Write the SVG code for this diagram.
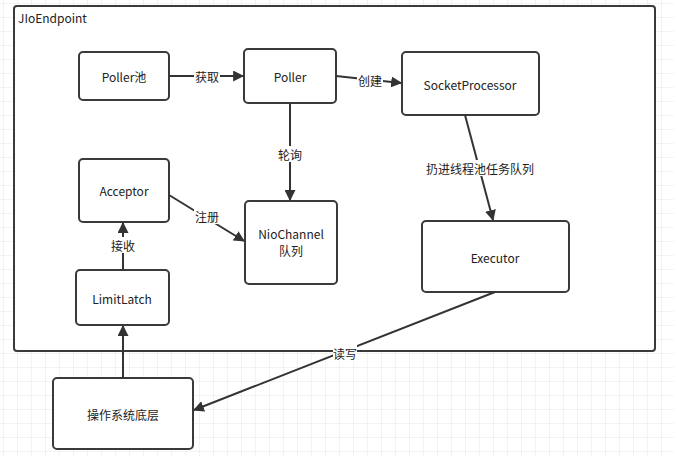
<svg xmlns="http://www.w3.org/2000/svg" width="674" height="457" viewBox="0 0 674 457">
<style>
.n{fill:#fff;stroke:#3a3a3a;stroke-width:2}
.t{font-family:"Noto Sans CJK SC","Noto Sans",sans-serif;font-size:12px;fill:#222;text-anchor:middle;dominant-baseline:central}
.c{stroke:#333;stroke-width:2;fill:none;marker-end:url(#a)}
.lb{fill:#fff}
</style>
<defs>
<marker id="a" viewBox="0 0 10 10" refX="9" refY="5" markerWidth="5.5" markerHeight="5.5" orient="auto" markerUnits="strokeWidth"><path d="M0,0L10,5L0,10z" fill="#333"/></marker>
<pattern id="g" width="14" height="14" patternUnits="userSpaceOnUse" x="4" y="4"><path d="M14,0V14M0,14H14" stroke="#e6e6e6" stroke-width="1" fill="none"/></pattern>
</defs>
<rect width="674" height="457" fill="#fff"/>
<rect width="674" height="457" fill="url(#g)"/>
<g id="container"><rect x="14" y="6" width="641" height="345" rx="3" class="n"/><text x="18" y="17" class="t" style="text-anchor:start">JIoEndpoint</text></g>
<g id="pollerpool"><rect x="79" y="52" width="90" height="48" rx="4" class="n"/><text x="124" y="76" class="t">Poller池</text></g>
<g id="poller"><rect x="244" y="49" width="92" height="54" rx="4" class="n"/><text x="290" y="76" class="t">Poller</text></g>
<g id="socketprocessor"><rect x="402" y="52" width="137" height="63" rx="4" class="n"/><text x="470" y="84" class="t">SocketProcessor</text></g>
<g id="acceptor"><rect x="79" y="159" width="90" height="63" rx="4" class="n"/><text x="124" y="190" class="t">Acceptor</text></g>
<g id="niochannel"><rect x="245" y="201" width="92" height="83" rx="4" class="n"/><text x="291" y="233" class="t">NioChannel</text><text x="291" y="250" class="t">队列</text></g>
<g id="executor"><rect x="422" y="221" width="147" height="71" rx="4" class="n"/><text x="495" y="257" class="t">Executor</text></g>
<g id="limitlatch"><rect x="76" y="270" width="93" height="55" rx="4" class="n"/><text x="122" y="298" class="t">LimitLatch</text></g>
<g id="os"><rect x="53" y="378" width="140" height="71" rx="4" class="n"/><text x="123" y="414" class="t">操作系统底层</text></g>
<g id="connectors">
<path class="c" d="M169,76H243"/>
<rect class="lb" x="194" y="68" width="26" height="16"/><text x="207" y="76" class="t">获取</text>
<path class="c" d="M336,76L401,83"/>
<rect class="lb" x="357" y="72" width="26" height="16"/><text x="370" y="80" class="t">创建</text>
<path class="c" d="M290,103V200"/>
<rect class="lb" x="277" y="146" width="26" height="16"/><text x="290" y="154" class="t">轮询</text>
<path class="c" d="M465,115L493,220"/>
<rect class="lb" x="426" y="160" width="110" height="16"/><text x="480" y="168" class="t">扔进线程池任务队列</text>
<path class="c" d="M169,195L244,241"/>
<rect class="lb" x="194" y="208" width="26" height="16"/><text x="207" y="216" class="t">注册</text>
<path class="c" d="M123,270V223"/>
<rect class="lb" x="110" y="237" width="26" height="16"/><text x="123" y="245" class="t">接收</text>
<path class="c" d="M123,378V326"/>
<path class="c" d="M495,292L194,410"/>
<rect class="lb" x="333" y="345" width="24" height="16"/><text x="345" y="353" class="t">读写</text>
</g>
</svg>
